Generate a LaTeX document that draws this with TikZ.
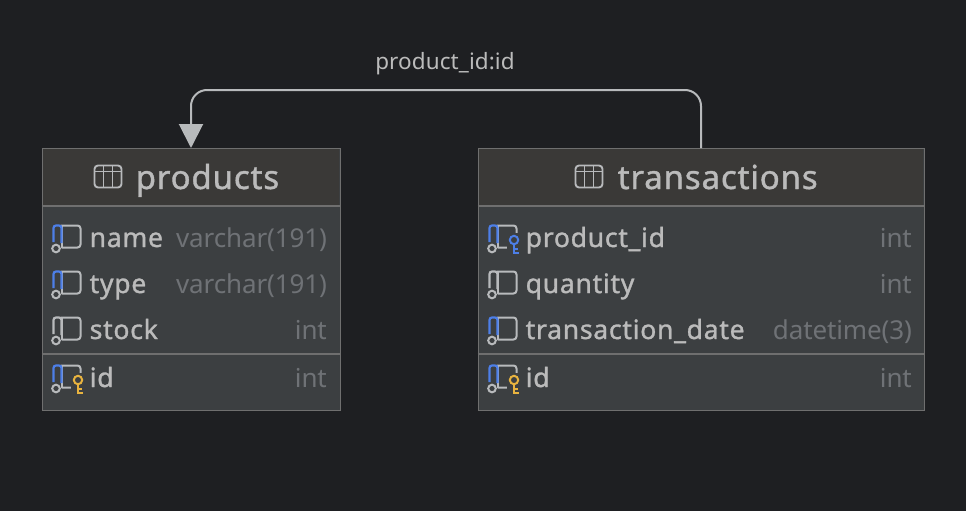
\documentclass[tikz,border=0pt]{standalone}
\usepackage{fontspec}
\setmainfont{Noto Sans}
\newfontfamily\heavyfont[FakeBold=1.2,LetterSpace=2.6]{Noto Sans}
\newfontfamily\heavycol[FakeBold=1.2,LetterSpace=2.6]{Noto Sans}
\newfontfamily\lightfont[LetterSpace=-0.5]{Noto Sans}
\newfontfamily\labelfont[LetterSpace=0.4]{Noto Sans}
\usetikzlibrary{arrows.meta,calc}
\definecolor{bg}{HTML}{1E1F22}
\definecolor{headr}{HTML}{3A3937}
\definecolor{body}{HTML}{3C3F41}
\definecolor{rule}{HTML}{6F6F6F}
\definecolor{txt}{HTML}{BBBBBB}
\definecolor{dim}{HTML}{6F7276}
\definecolor{ico}{HTML}{B8BABC}
\definecolor{bluei}{HTML}{4D7FE8}
\definecolor{gold}{HTML}{E8B33F}
\tikzset{
  x=1pt,y=-1pt,
  tablebox/.style={draw=rule,line width=1pt,fill=body,minimum height=262pt,inner sep=0pt,anchor=north west},
  tableframe/.style={draw=rule,line width=1pt,minimum height=262pt,inner sep=0pt,anchor=north west},
  title/.style={anchor=base west,text=txt,inner sep=0pt,font=\heavyfont\fontsize{33}{33}\selectfont},
  col/.style={anchor=base west,text=txt,inner sep=0pt,font=\heavycol\fontsize{26.6}{26.6}\selectfont},
  coltype/.style={anchor=base east,text=dim,inner sep=0pt,font=\lightfont\fontsize{26}{26}\selectfont},
  conlabel/.style={anchor=base,text=txt,inner sep=0pt,font=\labelfont\fontsize{22.5}{22.5}\selectfont},
}
\newcommand{\colicon}[3]{% x, y (top-left), bar colour
  \begin{scope}[shift={(#1,#2)},line width=2pt]
    \draw[ico,rounded corners=3pt] (8,0.5) -- (28,0.5) -- (28,22.5) -- (9,22.5);
    \draw[ico] (9.5,0.5) -- (9.5,22.5);
    \draw[#3,rounded corners=2.5pt,line width=2.2pt] (1,17) -- (1,0.5) -- (9,0.5) -- (9,18);
    \draw[ico] (3.5,23.5) circle (3.8);
  \end{scope}}
\newcommand{\keyicon}[3]{% x, y (ring centre), colour
  \begin{scope}[shift={(#1,#2)}]
    \fill[body] (-7,-7) rectangle (7,14);
    \begin{scope}[#3,line width=2pt]
    \draw (0,0) circle (4.2);
    \draw (0,4.2) -- (0,12.5) -- (5,12.5) (0,8.5) -- (4,8.5);
    \end{scope}
  \end{scope}}
\newcommand{\tableicon}[2]{%
  \begin{scope}[shift={(#1,#2)},ico,line width=1.9pt]
    \draw[rounded corners=3.5pt] (0,0) rectangle (27,22);
    \draw (0,6) -- (27,6) (9,0) -- (9,22) (18,0) -- (18,22);
  \end{scope}}
\begin{document}
\begin{tikzpicture}
\useasboundingbox (0,0) rectangle (966,511);
\fill[bg] (0,0) rectangle (966,511);
% tables
\node[tablebox,minimum width=298pt] (products) at (41.5,148) {};
\node[tablebox,minimum width=446pt] (transactions) at (477.5,148) {};
% headers
\fill[headr] (42,148.5) rectangle (339,206);
\fill[headr] (478,148.5) rectangle (923,206);
\draw[rule,line width=1.4pt] (41.5,206) -- (339.5,206) (477.5,206) -- (923.5,206);
\draw[rule,line width=1.4pt] (41.5,354) -- (339.5,354) (477.5,354) -- (923.5,354);
\node[tableframe,minimum width=298pt] (frameA) at (41.5,148) {};
\node[tableframe,minimum width=446pt] (frameB) at (477.5,148) {};
% connector
\coordinate (top) at (0,90);
\draw[ico,line width=2pt,rounded corners=16pt,-{Triangle[length=24pt,width=24pt,fill=ico]}]
  (transactions.north) -- (transactions.north |- top) -- (products.north |- top) -- (products.north);
\node[conlabel] (lbl) at (445,70) {product\_id:id};
% titles
\tableicon{94.5}{165.5}
\node[title] (t1) at (135.5,189) {products};
\tableicon{575.5}{165.5}
\node[title] (t2) at (617.5,189) {transactions};
% products rows
\colicon{52.5}{225}{bluei}
\node[col] (p1) at (89.5,247) {name};
\node[coltype] (p1t) at (327,247) {varchar(191)};
\colicon{52.5}{271}{bluei}
\node[col] (p2) at (89.5,293) {type};
\node[coltype] (p2t) at (327,293) {varchar(191)};
\colicon{52.5}{317}{ico}
\node[col] (p3) at (89.5,339) {stock};
\node[coltype] (p3t) at (327,339) {int};
\colicon{52.5}{365}{bluei}
\keyicon{78}{380}{gold}
\node[col] (p4) at (89.5,387) {id};
\node[coltype] (p4t) at (327,387) {int};
% transactions rows
\colicon{488.5}{225}{bluei}
\keyicon{514}{240}{bluei}
\node[col] (q1) at (525.5,247) {product\_id};
\node[coltype] (q1t) at (912,247) {int};
\colicon{488.5}{271}{ico}
\node[col] (q2) at (525.5,293) {quantity};
\node[coltype] (q2t) at (912,293) {int};
\colicon{488.5}{317}{bluei}
\node[col] (q3) at (525.5,339) {transaction\_date};
\node[coltype] (q3t) at (912,339) {datetime(3)};
\colicon{488.5}{365}{bluei}
\keyicon{514}{380}{gold}
\node[col] (q4) at (525.5,387) {id};
\node[coltype] (q4t) at (912,387) {int};
\end{tikzpicture}
\end{document}
